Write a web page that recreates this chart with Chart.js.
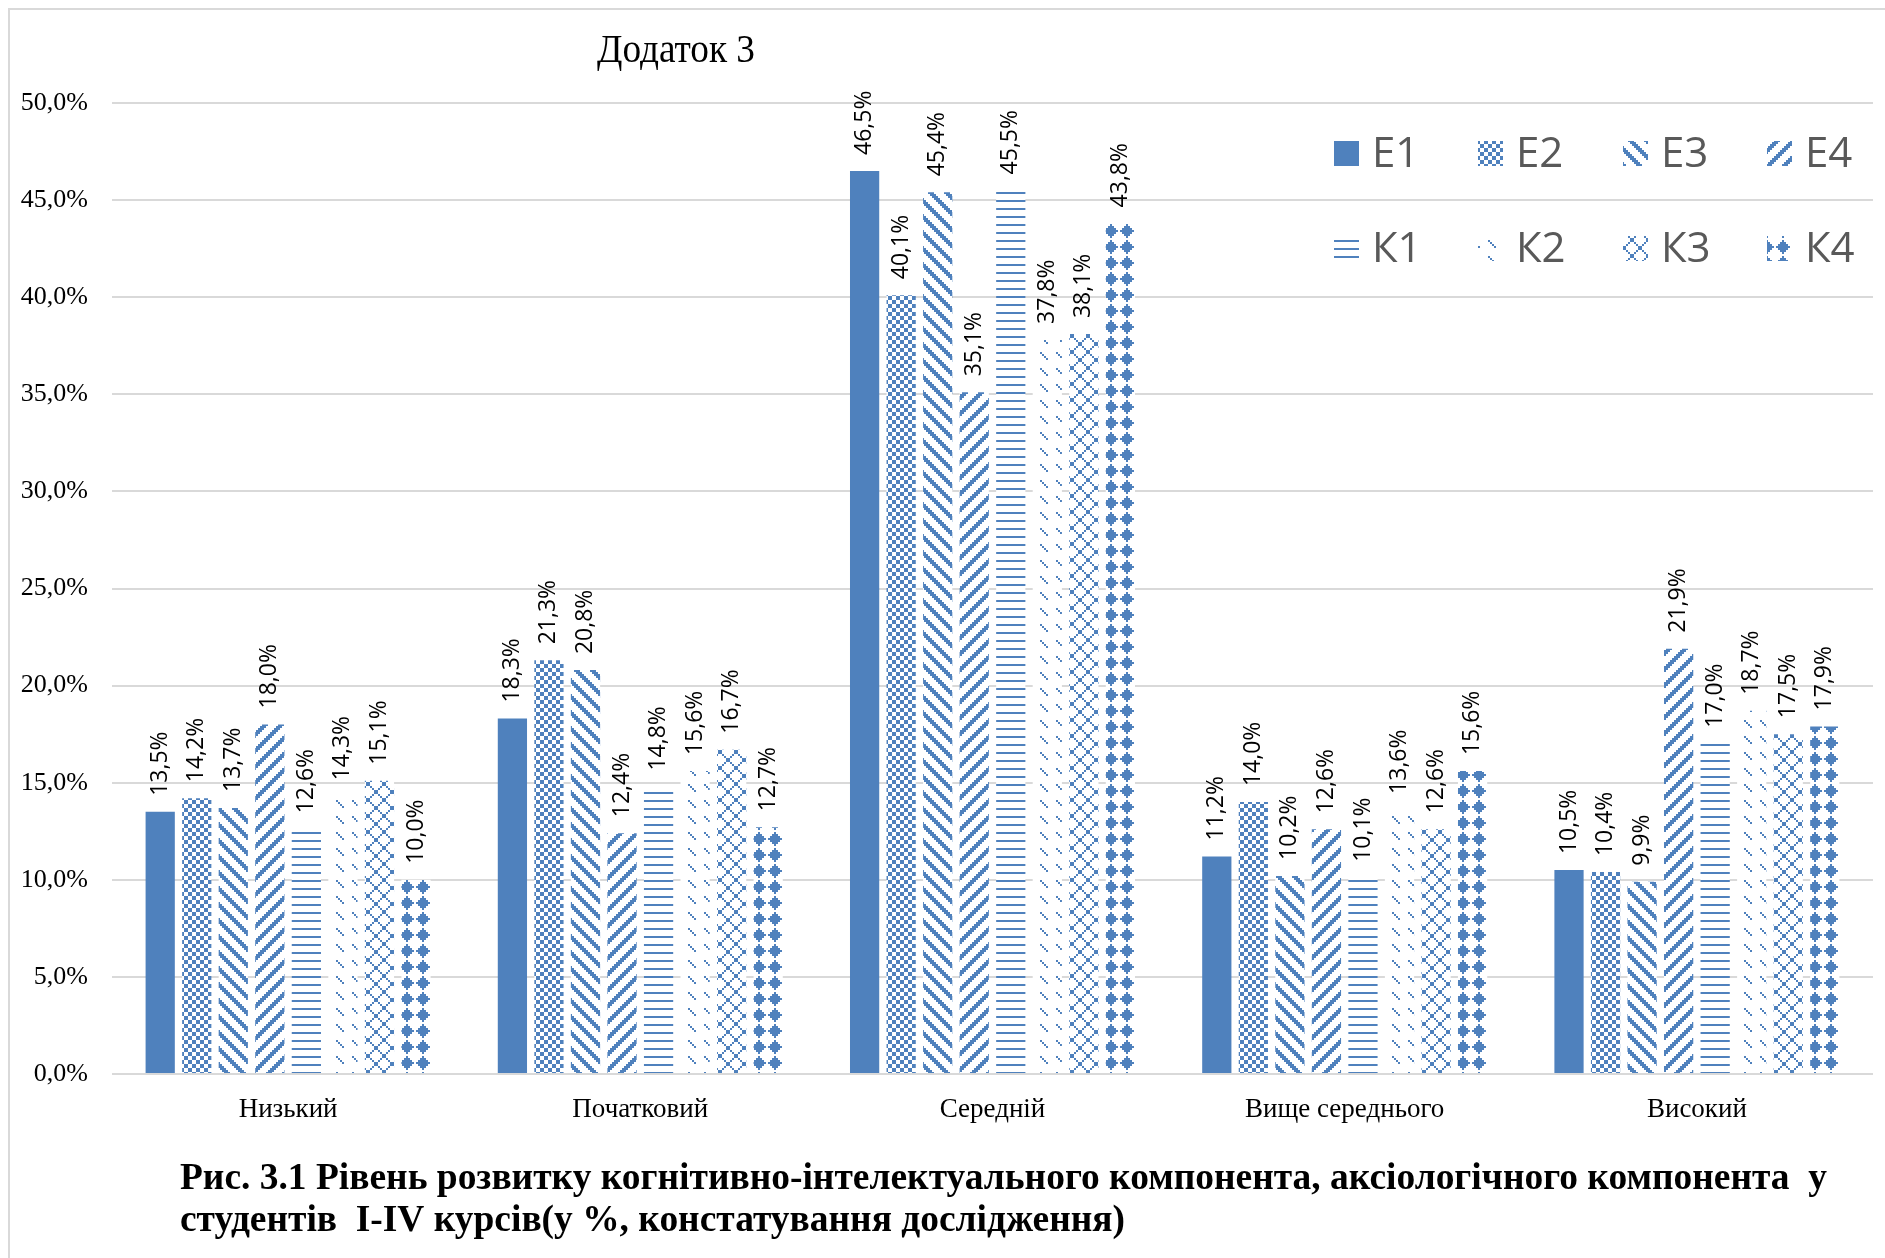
<!DOCTYPE html>
<html lang="uk">
<head>
<meta charset="utf-8">
<title>Рис. 3.1</title>
<script src="https://cdn.jsdelivr.net/npm/chart.js@4.4.1/dist/chart.umd.min.js"></script>
<style>
  html, body { margin: 0; padding: 0; background: #fff; }
  #wrap { width: 1885px; height: 1258px; }
</style>
</head>
<body>
<div id="wrap"><canvas id="levelsChart" width="1885" height="1258"></canvas></div>
<script>
// categories and series (values in %)
const categories = ['Низький', 'Початковий', 'Середній', 'Вище середнього', 'Високий'];
const seriesNames = ['Е1', 'Е2', 'Е3', 'Е4', 'К1', 'К2', 'К3', 'К4'];
const e1 = [13.5, 18.3, 46.5, 11.2, 10.5];
const e2 = [14.2, 21.3, 40.1, 14.0, 10.4];
const e3 = [13.7, 20.8, 45.4, 10.2, 9.9];
const e4 = [18.0, 12.4, 35.1, 12.6, 21.9];
const k1 = [12.6, 14.8, 45.5, 10.1, 17.0];
const k2 = [14.3, 15.6, 37.8, 13.6, 18.7];
const k3 = [15.1, 16.7, 38.1, 12.6, 17.5];
const k4 = [10.0, 12.7, 43.8, 15.6, 17.9];
const yTicks = [0, 5, 10, 15, 20, 25, 30, 35, 40, 45, 50];

const titleText = 'Додаток 3';
const captionLines = [
  'Рис. 3.1 Рівень розвитку когнітивно-інтелектуального компонента, аксіологічного компонента  у',
  'студентів  I-IV курсів(у %, констатування дослідження)'
];

const BLUE = '#4f81bd';

// 8x8 hatch bitmaps, drawn at 2x
function makePattern(rows) {
  const s = 2;
  const c = document.createElement('canvas');
  c.width = rows[0].length * s;
  c.height = rows.length * s;
  const g = c.getContext('2d');
  g.fillStyle = '#ffffff';
  g.fillRect(0, 0, c.width, c.height);
  g.fillStyle = BLUE;
  rows.forEach((row, r) => {
    for (let i = 0; i < row.length; i++) {
      if (row[i] === '1') g.fillRect(i * s, r * s, s, s);
    }
  });
  return g.createPattern(c, 'repeat');
}

const downDiag = ['11100000', '01110000', '00111000', '00011100', '00001110', '00000111', '10000011', '11000001'];
const upDiag = downDiag.map(r => r.split('').reverse().join(''));

const fills = [
  BLUE,
  makePattern(['11001100', '11001100', '00110011', '00110011', '11001100', '11001100', '00110011', '00110011']),
  makePattern(downDiag),
  makePattern(upDiag),
  makePattern(['11111111', '00000000', '00000000', '00000000', '11111111', '00000000', '00000000', '00000000']),
  makePattern(['10000000', '01000000', '00100000', '00010000', '00000000', '00000000', '00000000', '00000000']),
  makePattern(['10000001', '01000010', '00100100', '00011000', '00011000', '00100100', '01000010', '10000001']),
  makePattern(['00010000', '00111000', '01111100', '11111110', '01111100', '00111000', '00010000', '00000000'])
];

const seriesValues = [e1, e2, e3, e4, k1, k2, k3, k4];

const fmt = v => v.toFixed(1).replace('.', ',') + '%';

function fitText(ctx, text, x, y, scale) {
  ctx.save();
  ctx.translate(x, y);
  ctx.scale(scale, 1);
  ctx.fillText(text, 0, 0);
  ctx.restore();
}

// frame, title, caption, rotated value labels and legend
const decorPlugin = {
  id: 'decor',
  beforeDraw(chart) {
    const ctx = chart.ctx;
    ctx.save();
    ctx.fillStyle = '#fff';
    ctx.fillRect(0, 0, chart.width, chart.height);
    ctx.strokeStyle = '#d9d9d9';
    ctx.lineWidth = 2;
    ctx.beginPath();
    ctx.moveTo(9, chart.height);
    ctx.lineTo(9, 9);
    ctx.lineTo(chart.width, 9);
    ctx.stroke();
    ctx.restore();
  },
  afterDraw(chart) {
    const ctx = chart.ctx;
    const area = chart.chartArea;
    ctx.save();

    // value labels
    ctx.font = '23px "Open Sans"';
    ctx.fillStyle = '#000';
    ctx.textAlign = 'left';
    ctx.textBaseline = 'middle';
    chart.data.datasets.forEach((ds, di) => {
      chart.getDatasetMeta(di).data.forEach((bar, i) => {
        ctx.save();
        ctx.translate(bar.x, bar.y - 16);
        ctx.rotate(-Math.PI / 2);
        ctx.fillText(fmt(ds.data[i]), 0, 0);
        ctx.restore();
      });
    });

    // legend, 2 rows x 4 columns inside the plot
    ctx.font = '42px "Open Sans"';
    ctx.fillStyle = '#595959';
    ctx.textBaseline = 'middle';
    const colX = [-539, -395, -250, -106];
    const rowY = [51, 146];
    chart.data.datasets.forEach((ds, di) => {
      const x = area.right + colX[di % 4];
      const y = area.top + rowY[Math.floor(di / 4)];
      ctx.fillStyle = ds.backgroundColor;
      ctx.fillRect(x, y - 13, 25, 25);
      ctx.fillStyle = '#595959';
      ctx.fillText(ds.label, x + 38, y + 1);
    });

    // title
    ctx.fillStyle = '#000';
    ctx.textBaseline = 'alphabetic';
    ctx.font = '40px "Liberation Serif"';
    const tw = ctx.measureText(titleText).width;
    fitText(ctx, titleText, 597, 62, 158 / tw);

    // caption
    ctx.font = 'bold 38px "Liberation Serif"';
    const cw = ctx.measureText(captionLines[0]).width;
    const cs = 1647 / cw;
    fitText(ctx, captionLines[0], 180, 1189, cs);
    fitText(ctx, captionLines[1], 180, 1231, cs);
    ctx.restore();
  }
};

new Chart(document.getElementById('levelsChart').getContext('2d'), {
  type: 'bar',
  data: {
    labels: categories,
    datasets: seriesNames.map((name, i) => ({
      label: name,
      data: seriesValues[i],
      backgroundColor: fills[i],
      borderWidth: 0,
      categoryPercentage: 0.83,
      barPercentage: 0.8
    }))
  },
  options: {
    responsive: false,
    animation: false,
    layout: { padding: { top: 103, right: 12, bottom: 124, left: 0 } },
    plugins: {
      legend: { display: false },
      tooltip: { enabled: false }
    },
    scales: {
      x: {
        grid: { display: false, drawTicks: false },
        border: { display: false },
        ticks: {
          font: { family: 'Liberation Serif', size: 27 },
          color: '#000',
          padding: 20
        },
        afterFit: scale => { scale.height = 60; }
      },
      y: {
        min: 0,
        max: 50,
        grid: { color: '#d9d9d9', lineWidth: 2, drawTicks: false },
        border: { display: false },
        afterBuildTicks: scale => { scale.ticks = yTicks.map(v => ({ value: v })); },
        ticks: {
          font: { family: 'Liberation Serif', size: 26 },
          color: '#000',
          padding: 24,
          callback: v => fmt(v)
        },
        afterFit: scale => { scale.width = 112; }
      }
    }
  },
  plugins: [decorPlugin]
});
</script>
</body>
</html>
